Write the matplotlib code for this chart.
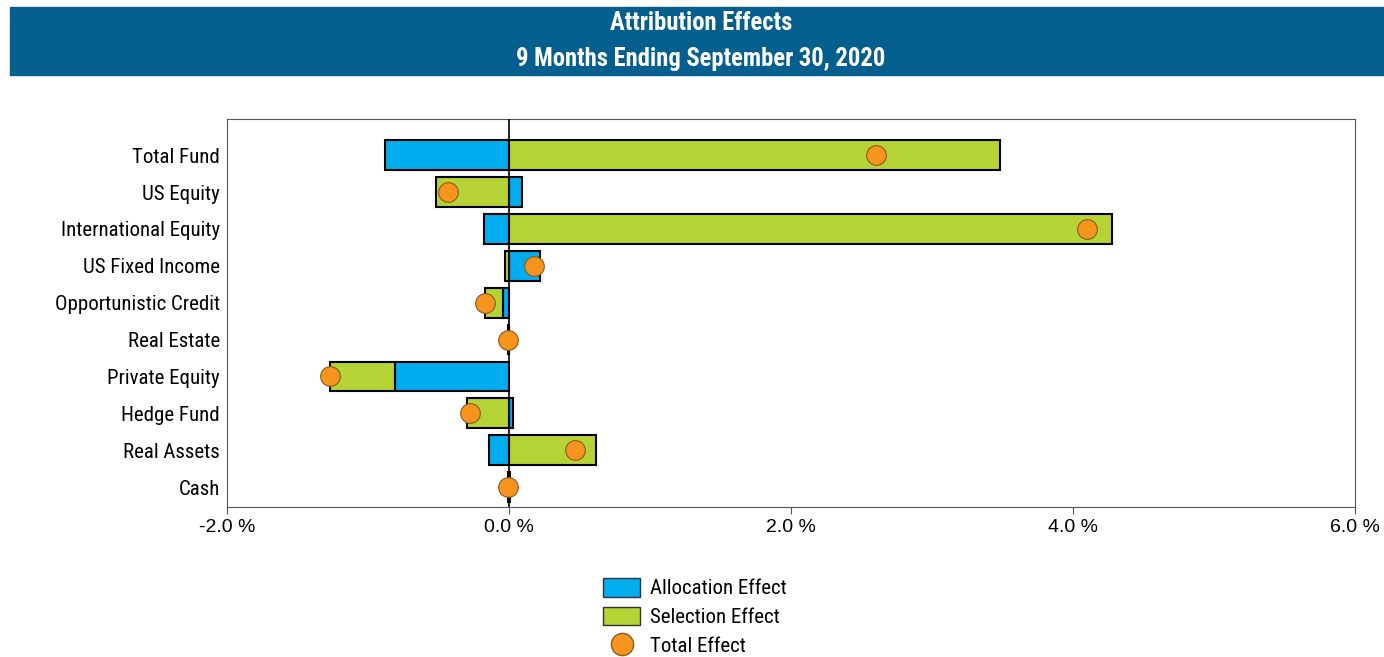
import numpy as np
import matplotlib
matplotlib.use("Agg")
import matplotlib.pyplot as plt
from matplotlib.patches import Patch
from matplotlib.lines import Line2D

plt.rcParams['font.family'] = ['Liberation Sans', 'DejaVu Sans']
NARROW = ['Roboto Condensed', 'Archivo Narrow', 'Liberation Sans', 'DejaVu Sans']

categories = ["Total Fund", "US Equity", "International Equity", "US Fixed Income",
              "Opportunistic Credit", "Real Estate", "Private Equity", "Hedge Fund",
              "Real Assets", "Cash"]
allocation = [-0.88, 0.09, -0.18, 0.22, -0.04, 0.00, -0.81, 0.03, -0.14, -0.01]
selection = [3.48, -0.52, 4.28, -0.03, -0.13, -0.01, -0.46, -0.30, 0.62, 0.01]
total = [2.60, -0.43, 4.10, 0.18, -0.17, -0.01, -1.27, -0.28, 0.47, -0.01]
xticks = [-2.0, 0.0, 2.0, 4.0, 6.0]

BLUE = "#00AEEF"
GREEN = "#B5D334"
ORANGE = "#F7941D"
BANNER = "#045F8F"

fig = plt.figure(figsize=(13.84, 6.57), dpi=100)

# title banner
fig.patches.append(plt.Rectangle((10 / 1384, 1 - 75 / 657), 1374 / 1384, 68 / 657,
                                 transform=fig.transFigure, color=BANNER, zorder=0))
fig.text(701 / 1384, 1 - 23 / 657, "Attribution Effects", color="white", fontsize=17.7,
         fontweight="bold", ha="center", va="center", family=NARROW)
fig.text(701 / 1384, 1 - 59 / 657, "9 Months Ending September 30, 2020", color="white",
         fontsize=17.7, fontweight="bold", ha="center", va="center", family=NARROW)

ax = fig.add_axes([227 / 1384, 1 - 507 / 657, 1128 / 1384, 388 / 657])

y = np.arange(len(categories))
alloc = np.array(allocation)
sel = np.array(selection)

# diverging stacks: positives go right from 0, negatives go left from 0
s_left = np.where((sel >= 0) == (alloc >= 0), alloc, 0.0)

ax.barh(y, alloc, height=0.81, color=BLUE, edgecolor="black", linewidth=1.5, zorder=2)
ax.barh(y, sel, left=s_left, height=0.81, color=GREEN, edgecolor="black", linewidth=1.5, zorder=2)
ax.axvline(0, color="black", linewidth=1.2, zorder=3)
ax.scatter(total, y, s=200, color=ORANGE, edgecolor="#8a5a1a", linewidth=0.8, zorder=4)

ax.set_xlim(-2, 6)
ax.set_ylim(9.54, -0.98)
ax.set_yticks(y)
ax.set_yticklabels(categories, fontsize=15, family=NARROW)
ax.set_xticks(xticks)
ax.set_xticklabels(["%.1f %%" % v for v in xticks], fontsize=14)
ax.tick_params(axis="y", length=0, pad=5)
ax.tick_params(axis="x", length=5, color="#555555", direction="out")
for s in ax.spines.values():
    s.set_color("#555555")
    s.set_linewidth(0.8)

handles = [Patch(facecolor=BLUE, edgecolor="#333333", label="Allocation Effect"),
           Patch(facecolor=GREEN, edgecolor="#333333", label="Selection Effect"),
           Line2D([], [], marker="o", linestyle="none", markersize=16, markerfacecolor=ORANGE,
                  markeredgecolor="#8a5a1a", label="Total Effect")]
fig.legend(handles=handles, loc="center", bbox_to_anchor=(695 / 1384, 1 - 617 / 657), frameon=False,
           prop={'family': NARROW, 'size': 15}, handlelength=1.78, handleheight=1.0,
           labelspacing=0.4, handletextpad=0.45)

fig.savefig("out.png", dpi=100)
